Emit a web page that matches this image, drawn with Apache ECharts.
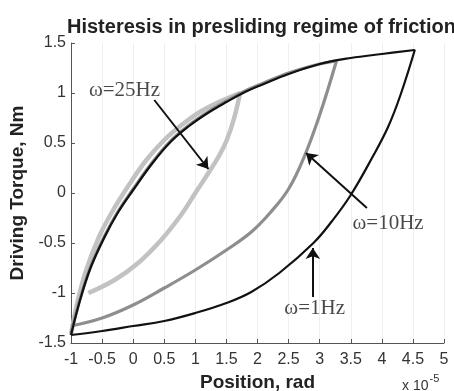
<!DOCTYPE html>
<html>
<head>
<meta charset="utf-8">
<script src="https://cdn.jsdelivr.net/npm/echarts@6/dist/echarts.min.js"></script>
<style>html,body{margin:0;padding:0;background:#fff}#c{width:454px;height:391px}</style>
</head>
<body>
<div id="c"></div>
<script>
// ---- data (x in units of 1e-5 rad, y in Nm) ----
const xTickInterval = 0.5;
const yTickInterval = 0.5;

// omega = 1 Hz loop (black)
const hz1UpperX = [-1, -0.84, -0.68, -0.46, -0.25, 0, 0.3, 0.6, 0.9, 1.2, 1.5, 1.8, 2.1, 2.5, 3.0, 3.5, 4.0, 4.53];
const hz1UpperY = [-1.42, -1.04, -0.74, -0.44, -0.20, 0.03, 0.29, 0.51, 0.67, 0.80, 0.91, 1.01, 1.09, 1.19, 1.29, 1.35, 1.39, 1.43];
const hz1LowerX = [4.53, 4.3, 4.1, 3.85, 3.5, 3.2, 2.9, 2.35, 1.9, 1.5, 1.0, 0.5, 0, -0.5, -1];
const hz1LowerY = [1.43, 0.98, 0.66, 0.36, -0.02, -0.28, -0.50, -0.80, -0.99, -1.10, -1.20, -1.28, -1.33, -1.38, -1.42];

// omega = 10 Hz loop (mid gray)
const hz10UpperX = [-1, -0.84, -0.68, -0.46, -0.25, 0, 0.3, 0.6, 0.9, 1.2, 1.5, 1.8, 2.1, 2.5, 3.0, 3.27];
const hz10UpperY = [-1.40, -1.03, -0.73, -0.43, -0.19, 0.04, 0.30, 0.52, 0.68, 0.81, 0.92, 1.02, 1.10, 1.20, 1.29, 1.32];
const hz10LowerX = [3.27, 3.0, 2.75, 2.5, 2.2, 1.9, 1.5, 1.0, 0.5, 0, -0.5, -1];
const hz10LowerY = [1.32, 0.78, 0.36, 0.04, -0.20, -0.39, -0.57, -0.77, -0.95, -1.12, -1.25, -1.33];

// omega = 25 Hz loop (light gray)
const hz25UpperX = [-1, -0.9, -0.76, -0.55, -0.34, -0.1, 0.2, 0.5, 0.8, 1.1, 1.45, 1.72];
const hz25UpperY = [-1.42, -1.10, -0.78, -0.44, -0.19, 0.05, 0.32, 0.53, 0.69, 0.82, 0.93, 1.0];
const hz25LowerX = [1.72, 1.62, 1.5, 1.37, 1.2, 1.0, 0.77, 0.45, 0.08, -0.30, -0.72];
const hz25LowerY = [1.0, 0.74, 0.52, 0.36, 0.19, 0.0, -0.22, -0.47, -0.70, -0.87, -1.0];

// annotations
const annotLabels = ['ω=25Hz', 'ω=10Hz', 'ω=1Hz'];
const annotX = [-0.14, 4.10, 2.92];
const annotY = [1.03, -0.30, -1.15];
const arrowStartX = [0.34, 3.76, 2.89];
const arrowStartY = [0.93, -0.15, -1.04];
const arrowEndX = [1.21, 2.78, 2.89];
const arrowEndY = [0.24, 0.40, -0.55];

function pairs(xs, ys) { return xs.map((x, i) => [x, ys[i]]); }
function loop(ux, uy, lx, ly) { return pairs(ux, uy).concat(pairs(lx, ly).slice(1)); }

const chart = echarts.init(document.getElementById('c'), null, {renderer: 'canvas'});
const axisFont = {fontFamily: 'Liberation Sans', fontSize: 16, color: '#333'};

chart.setOption({
  animation: false,
  backgroundColor: '#ffffff',
  title: {
    text: 'Histeresis in presliding regime of friction',
    left: 62, top: 12,
    textStyle: {fontFamily: 'Liberation Sans', fontWeight: 'bold', fontSize: 20, color: '#222'}
  },
  grid: {left: 71, right: 10, top: 43, bottom: 48, containLabel: false, outerBoundsMode: 'none'},
  xAxis: {
    type: 'value', min: -1, max: 5, interval: xTickInterval,
    name: 'Position, rad', nameLocation: 'middle', nameGap: 28,
    nameTextStyle: {fontFamily: 'Liberation Sans', fontWeight: 'bold', fontSize: 19, color: '#222'},
    axisLine: {show: true, onZero: false, lineStyle: {color: '#555', width: 1}},
    axisTick: {show: true, inside: true, length: 4, lineStyle: {color: '#555'}},
    axisLabel: Object.assign({margin: 9}, axisFont),
    splitLine: {show: true, lineStyle: {color: '#efefef', width: 1}}
  },
  yAxis: {
    type: 'value', min: -1.5, max: 1.5, interval: yTickInterval,
    name: 'Driving Torque, Nm', nameLocation: 'middle', nameGap: 38, nameRotate: 90,
    nameTextStyle: {fontFamily: 'Liberation Sans', fontWeight: 'bold', fontSize: 19, color: '#222'},
    axisLine: {show: true, onZero: false, lineStyle: {color: '#555', width: 1}},
    axisTick: {show: true, inside: true, length: 4, lineStyle: {color: '#555'}},
    axisLabel: Object.assign({margin: 5}, axisFont),
    splitLine: {show: false}
  },
  graphic: [{
    type: 'text', left: 402, top: 373,
    style: {
      text: '{a|x 10}{b|-5}',
      rich: {
        a: {fontFamily: 'Liberation Sans', fontSize: 14, fill: '#333', padding: [8, 0, 0, 0]},
        b: {fontFamily: 'Liberation Sans', fontSize: 11, fill: '#333', padding: [0, 0, 7, 1]}
      }
    }
  }],
  series: [
    {
      type: 'line', name: '25Hz', data: loop(hz25UpperX, hz25UpperY, hz25LowerX, hz25LowerY),
      smooth: 0.4, showSymbol: false, lineStyle: {color: '#c2c2c2', width: 4.5}, z: 1
    },
    {
      type: 'line', name: '10Hz', data: loop(hz10UpperX, hz10UpperY, hz10LowerX, hz10LowerY),
      smooth: 0.4, showSymbol: false, lineStyle: {color: '#8e8e8e', width: 3.2}, z: 2
    },
    {
      type: 'line', name: '1Hz', data: loop(hz1UpperX, hz1UpperY, hz1LowerX, hz1LowerY),
      smooth: 0.4, showSymbol: false, lineStyle: {color: '#111', width: 2.2}, z: 3
    },
    {
      type: 'scatter', name: 'annot', z: 5,
      data: annotX.map((x, i) => ({value: [x, annotY[i]], name: annotLabels[i]})),
      symbolSize: 1, itemStyle: {color: 'rgba(0,0,0,0)'},
      label: {
        show: true, position: 'inside', formatter: p => p.name,
        fontFamily: 'Liberation Serif', fontSize: 21, color: '#1a1a1a'
      },
      markLine: {
        silent: true, animation: false,
        symbol: ['none', 'arrow'], symbolSize: 11,
        lineStyle: {color: '#111', width: 2, type: 'solid'},
        label: {show: false},
        data: arrowStartX.map((x, i) => [
          {coord: [x, arrowStartY[i]]},
          {coord: [arrowEndX[i], arrowEndY[i]]}
        ])
      }
    }
  ]
});
</script>
</body>
</html>
